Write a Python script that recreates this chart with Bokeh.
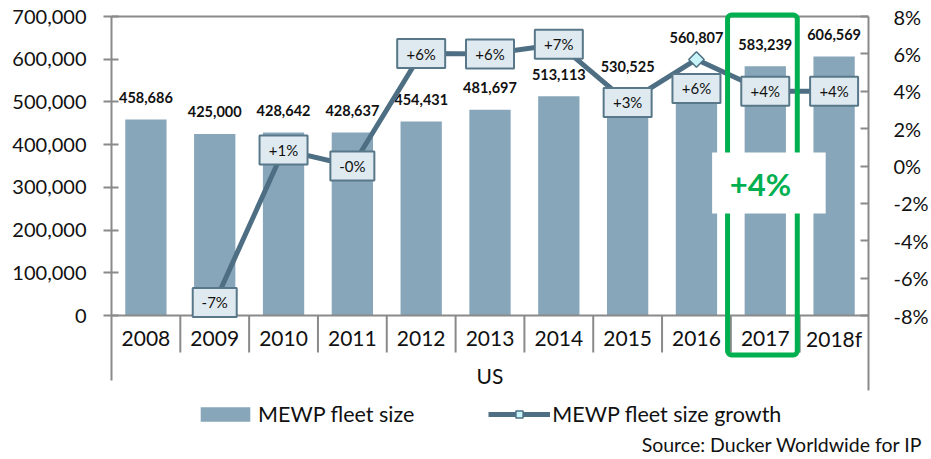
import math
from bokeh.plotting import figure
from bokeh.models import (ColumnDataSource, FactorRange, Range1d, LinearAxis, FixedTicker,
                          NumeralTickFormatter, PrintfTickFormatter, Legend, LegendItem, Title)
from bokeh.core.properties import value
from bokeh.embed import file_html
from bokeh.resources import INLINE

# ---------------- data ----------------
years = ["2008", "2009", "2010", "2011", "2012", "2013", "2014", "2015", "2016", "2017", "2018f"]
fleet = [458686, 425000, 428642, 428637, 454431, 481697, 513113, 530525, 560807, 583239, 606569]
growth = [None, -7.3, 0.86, -0.001, 6.02, 6.0, 6.52, 3.4, 5.7, 4.0, 4.0]
group_label = "US"
left_ticks = [0, 100000, 200000, 300000, 400000, 500000, 600000, 700000]
right_ticks = [-8, -6, -4, -2, 0, 2, 4, 6, 8]
legend_labels = ["MEWP fleet size", "MEWP fleet size growth"]
highlight_year = "2017"
highlight_text = "+4%"
source_text = "Source: Ducker Worldwide for IP"

# ---------------- style / layout ----------------
FONT = "Lato"
BAR = "#87a6b9"
LINE = "#4e6f83"
BOXF = "#dfeaf0"
BOXL = "#587889"
GREEN = "#00b050"
GRAY = "#8a8a8a"
TXT = "#111111"

W, H = 931, 459
X0, X1 = 111, 871          # x of plot frame
SY_TOP, SY_BOT = 8, 430    # y of frame
SY_ZERO, SY_MAX = 315, 16  # y of axis 0 and 700,000 / -8% and 8%
PXL = left_ticks[-1] / (SY_ZERO - SY_MAX)
PXR = (right_ticks[-1] - right_ticks[0]) / (SY_ZERO - SY_MAX)
CW = (X1 - X0) / len(years)


def yl(sy):
    return (SY_ZERO - sy) * PXL


def yr(sy):
    return right_ticks[0] + (SY_ZERO - sy) * PXR


def xs(sx):
    return (sx - X0) / CW


bar_lbl_dy = [-22, -22, -22, -22, -22, -22, -22, -22, -38, -22, -22]
box_dy_px = [0, 0, 0, 0, 0, 0, 0, 29, 0, 0]  # 2009..2018f, 2016 label sits below its point

src = ColumnDataSource(dict(
    year=years, fleet=fleet,
    fleet_lbl=[f"{v:,}" for v in fleet],
    lbl_dy=bar_lbl_dy,
))

g_years = years[1:]
g_vals = growth[1:]
g_lbls = [f"{g:+.0f}%" for g in g_vals]
gsrc = ColumnDataSource(dict(
    year=g_years, growth=g_vals, lbl=g_lbls,
    box_y=[g - d * PXR for g, d in zip(g_vals, box_dy_px)],
    box_w=[48 if s.startswith("+") else 44 for s in g_lbls],
))

p = figure(x_range=FactorRange(*years),
           y_range=Range1d(yl(SY_BOT), yl(SY_TOP)),
           width=W, height=H,
           min_border_left=X0, min_border_right=W - X1, min_border_top=SY_TOP,
           min_border_bottom=H - SY_BOT,
           output_backend="svg", toolbar_location=None,
           x_axis_location=None, y_axis_location=None)
p.extra_y_ranges = {"pct": Range1d(yr(SY_BOT), yr(SY_TOP))}
p.grid.grid_line_color = None
p.outline_line_color = None
p.background_fill_color = "white"
p.border_fill_color = "white"

axis_style = dict(minor_tick_line_color=None,
                  axis_line_color=GRAY, axis_line_width=2,
                  major_tick_line_color=GRAY, major_tick_line_width=2,
                  major_label_text_font=FONT, major_label_text_font_size="20px",
                  major_label_text_color=TXT)

ax_l = LinearAxis(ticker=FixedTicker(ticks=left_ticks),
                  formatter=NumeralTickFormatter(format="0,0"),
                  bounds=(yl(380), left_ticks[-1]), major_tick_in=7, major_tick_out=8,
                  major_label_standoff=17, **axis_style)
p.add_layout(ax_l, "left")
ax_r = LinearAxis(y_range_name="pct", ticker=FixedTicker(ticks=right_ticks),
                  formatter=PrintfTickFormatter(format="%d%%"),
                  bounds=(yr(390), right_ticks[-1]), major_tick_in=8, major_tick_out=0,
                  major_label_standoff=25, **axis_style)
p.add_layout(ax_r, "right")

n = len(years)
# top border line
p.segment(x0=[0], x1=[n], y0=[left_ticks[-1]], y1=[left_ticks[-1]], line_color=GRAY, line_width=2)

bars = p.vbar(x="year", top="fleet", width=0.6, source=src, fill_color=BAR, line_color=None)

# category axis line and separators
p.segment(x0=[0], x1=[n], y0=[0], y1=[0], line_color=GRAY, line_width=2)
p.segment(x0=list(range(1, n)), x1=list(range(1, n)), y0=[0] * (n - 1), y1=[yl(352)] * (n - 1),
          line_color=GRAY, line_width=2)

p.text(x="year", y="fleet", text="fleet_lbl", y_offset="lbl_dy", source=src,
       text_align="center", text_baseline="middle", text_font=value(FONT),
       text_font_style="bold", text_font_size="14.5px", text_color=TXT)

line_r = p.line(x="year", y="growth", source=gsrc, y_range_name="pct",
                line_color=LINE, line_width=5)
mark_r = p.scatter(x="year", y="growth", source=gsrc, y_range_name="pct", marker="square",
                   angle=math.pi / 4, size=11, fill_color="#c8f4f9", line_color=LINE, line_width=1.5)

p.rect(x="year", y="box_y", width="box_w", height=29, width_units="screen", height_units="screen",
       source=gsrc, y_range_name="pct", fill_color=BOXF, line_color=BOXL, line_width=2)
p.text(x="year", y="box_y", text="lbl", source=gsrc, y_range_name="pct",
       text_align="center", text_baseline="middle", text_font=value(FONT),
       text_font_size="15px", text_color=TXT)

# category labels and group label
p.text(x=years, y=[yl(337.5)] * n, text=years, text_align="center", text_baseline="middle",
       text_font=value(FONT), text_font_size="21px", text_color=TXT)
p.text(x=[n / 2], y=[yl(375)], text=[group_label], text_align="center", text_baseline="middle",
       text_font=value(FONT), text_font_size="21px", text_color=TXT)

# highlight of 2017
p.quad(left=[xs(729.5)], right=[xs(799.5)], top=[yl(14.5)], bottom=[yl(354.5)],
       fill_color=None, line_color=GREEN, line_width=5, border_radius=4)
p.quad(left=[xs(714)], right=[xs(828)], top=[yl(152)], bottom=[yl(213)],
       fill_color="white", line_color=None)
p.text(x=[xs(762.5)], y=[yl(183)], text=[highlight_text], text_align="center", text_baseline="middle",
       text_font=value(FONT), text_font_style="bold", text_font_size="31px", text_color=GREEN)

legend = Legend(items=[LegendItem(label=legend_labels[0], renderers=[bars]),
                       LegendItem(label=legend_labels[1], renderers=[line_r, mark_r])],
                orientation="horizontal", location=(83, 3), glyph_width=62, glyph_height=18,
                label_standoff=2, spacing=74, padding=0, margin=0,
                border_line_color=None, background_fill_alpha=0,
                label_text_font=FONT, label_text_font_size="21.5px", label_text_color=TXT)
p.add_layout(legend)

p.add_layout(Title(text=source_text, align="right", offset=-54, standoff=0,
                   text_font=FONT, text_font_size="19.5px", text_font_style="normal",
                   text_color=TXT), "below")

open("out.html", "w").write(file_html(p, INLINE))
